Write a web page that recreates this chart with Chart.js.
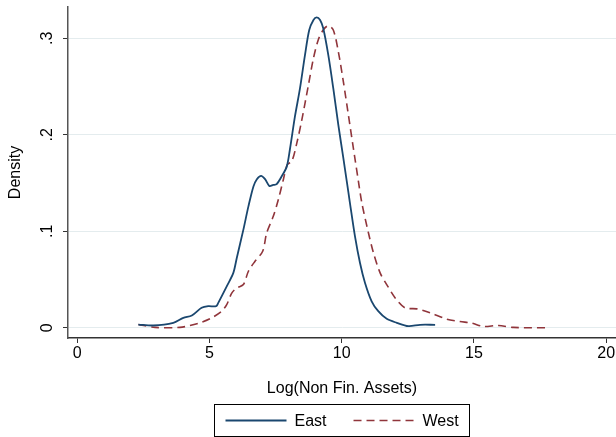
<!DOCTYPE html>
<html>
<head>
<meta charset="utf-8">
<title>Density of log non-financial assets</title>
<script src="https://cdn.jsdelivr.net/npm/chart.js@4.4.0/dist/chart.umd.min.js"></script>
<style>
  html, body { margin: 0; padding: 0; background: #fff; }
  #wrap { width: 616px; height: 437px; }
</style>
</head>
<body>
<div id="wrap"><canvas id="densityChart" width="616" height="437"></canvas></div>
<script>
// kernel density estimates, East vs West
const eastX = [2.31, 2.87, 3.63, 4.01, 4.33, 4.70, 4.95, 5.25, 5.33, 5.65, 5.90, 6.03, 6.28, 6.47, 6.66, 6.79,
  6.95, 7.10, 7.26, 7.41, 7.54, 7.73, 7.92, 8.04, 8.23, 8.42, 8.61, 8.77, 8.93, 9.05, 9.18, 9.30, 9.49, 9.68,
  9.87, 10.06, 10.19, 10.31, 10.50, 10.69, 10.88, 11.13, 11.38, 11.70, 12.08, 12.52, 12.96, 13.53];
const eastY = [0.0034, 0.0024, 0.0052, 0.0103, 0.0127, 0.0207, 0.0224, 0.0224, 0.0259, 0.043, 0.0569, 0.0724,
  0.1017, 0.1258, 0.1465, 0.154, 0.1575, 0.154, 0.147, 0.148, 0.149, 0.157, 0.167, 0.185, 0.219, 0.248, 0.2827,
  0.3086, 0.319, 0.3217, 0.319, 0.3103, 0.2827, 0.248, 0.2103, 0.1758, 0.1517, 0.1293, 0.0948, 0.0672, 0.0465,
  0.0275, 0.0172, 0.0093, 0.0052, 0.0017, 0.0031, 0.0031];

const westX = [2.31, 2.94, 3.88, 4.26, 4.70, 5.08, 5.46, 5.65, 5.84, 6.03, 6.28, 6.47, 6.72, 7.01, 7.16, 7.41,
  7.60, 7.79, 7.94, 8.11, 8.30, 8.49, 8.74, 8.93, 9.11, 9.30, 9.49, 9.68, 9.87, 10.06, 10.25, 10.44, 10.63,
  10.76, 11.01, 11.20, 11.45, 11.70, 12.02, 12.39, 12.84, 13.34, 13.97, 14.47, 14.92, 15.36, 15.92, 16.49, 17.75];
const westY = [0.0034, 0.0004, 0.0004, 0.0024, 0.0058, 0.0103, 0.0172, 0.024, 0.036, 0.0413, 0.0448, 0.0586,
  0.0689, 0.0793, 0.0982, 0.1155, 0.1327, 0.1534, 0.169, 0.1724, 0.1914, 0.2155, 0.2517, 0.2793, 0.2982, 0.3086,
  0.313, 0.3086, 0.2862, 0.2551, 0.2206, 0.186, 0.1517, 0.1293, 0.0982, 0.0775, 0.0569, 0.0448, 0.031, 0.0207,
  0.0196, 0.0155, 0.009, 0.0065, 0.0048, 0.0014, 0.0024, 0.0004, 0];

const seriesNames = ['East', 'West'];
const xTicks = [0, 5, 10, 15, 20];
const yTicks = [0, 0.1, 0.2, 0.3];
const xTitle = 'Log(Non Fin. Assets)';
const yTitle = 'Density';

const toPoints = (xs, ys) => xs.map((x, i) => ({ x: x, y: ys[i] }));

Chart.defaults.font.family = "'Liberation Sans', Arial, Helvetica, sans-serif";
Chart.defaults.font.size = 16;
Chart.defaults.color = '#000';

// boxed legend row under the x-axis title
const boxedLegend = {
  id: 'boxedLegend',
  afterDraw(chart) {
    const ctx = chart.ctx;
    const sets = chart.data.datasets;
    const pad = 11, sample = 61, gap = 8, between = 27;
    ctx.save();
    ctx.font = "16px 'Liberation Sans', Arial, sans-serif";
    const widths = sets.map(d => ctx.measureText(d.label).width);
    const boxW = pad * 2 + sets.length * (sample + gap) + widths.reduce((a, b) => a + b, 0) + between * (sets.length - 1);
    const boxH = 32;
    const cx = (chart.chartArea.left + chart.chartArea.right) / 2;
    const left = Math.round(cx - boxW / 2) + 0.5;
    const top = 404.5;
    ctx.strokeStyle = '#000';
    ctx.lineWidth = 1;
    ctx.strokeRect(left, top, Math.round(boxW), boxH);

    const midY = top + boxH / 2;
    let x = left + pad;
    sets.forEach((d, i) => {
      ctx.beginPath();
      ctx.strokeStyle = d.borderColor;
      ctx.lineWidth = d.borderWidth;
      ctx.setLineDash(d.borderDash || []);
      ctx.moveTo(x, midY);
      ctx.lineTo(x + sample, midY);
      ctx.stroke();
      ctx.setLineDash([]);
      x += sample + gap;
      ctx.fillStyle = '#000';
      ctx.textAlign = 'left';
      ctx.textBaseline = 'middle';
      ctx.fillText(d.label, x, midY + 1);
      x += widths[i] + between;
    });
    ctx.restore();
  }
};

const ctx = document.getElementById('densityChart').getContext('2d');
const densityChart = new Chart(ctx, {
  type: 'line',
  data: {
    datasets: [{
      label: seriesNames[0],
      data: toPoints(eastX, eastY),
      borderColor: 'rgb(26, 71, 111)',
      borderWidth: 1.8,
      pointRadius: 0,
      tension: 0.3,
      fill: false
    }, {
      label: seriesNames[1],
      data: toPoints(westX, westY),
      borderColor: 'rgb(144, 53, 59)',
      borderWidth: 1.6,
      borderDash: [8, 5],
      pointRadius: 0,
      tension: 0.3,
      fill: false
    }]
  },
  options: {
    responsive: false,
    animation: false,
    devicePixelRatio: 1,
    layout: { padding: { top: 7, right: 0, bottom: 0, left: 0 } },
    plugins: {
      legend: { display: false },
      tooltip: { enabled: false }
    },
    scales: {
      x: {
        type: 'linear',
        min: -0.352,
        max: 20.37,
        afterBuildTicks: s => { s.ticks = xTicks.map(v => ({ value: v })); },
        afterFit: s => { s.height = 99; s.paddingLeft = 0; s.paddingRight = 0; },
        grid: { drawOnChartArea: false, drawTicks: true, tickLength: 5, tickColor: '#333', tickWidth: 1 },
        border: { color: '#333', width: 1.5 },
        ticks: { padding: 1, maxRotation: 0, minRotation: 0, callback: v => String(v) },
        title: { display: true, text: xTitle, padding: { top: 0, bottom: 38.4 } }
      },
      y: {
        type: 'linear',
        min: -0.01056,
        max: 0.3324,
        afterBuildTicks: s => { s.ticks = yTicks.map(v => ({ value: v })); },
        afterFit: s => { s.width = 68; s.paddingTop = 0; s.paddingBottom = 0; },
        grid: { color: 'rgb(228, 236, 238)', lineWidth: 1, drawTicks: true, tickLength: 5, tickColor: '#333', tickWidth: 1 },
        border: { color: '#555', width: 1.5 },
        ticks: {
          padding: 8.8,
          minRotation: 90,
          maxRotation: 90,
          crossAlign: 'center',
          callback: v => v === 0 ? '0' : String(Math.round(v * 10) / 10).replace(/^0/, '')
        },
        title: { display: true, text: yTitle, padding: { top: 6.4, bottom: 0 } }
      }
    }
  },
  plugins: [boxedLegend]
});
</script>
</body>
</html>
